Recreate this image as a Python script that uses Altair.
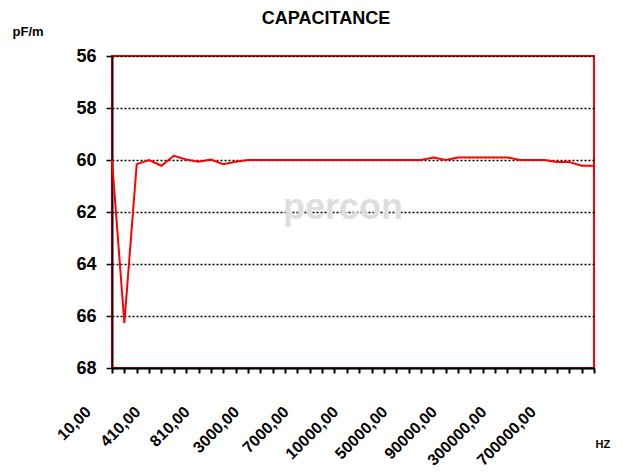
import altair as alt
import pandas as pd

freqs = ["10,00", "110,00", "210,00", "310,00", "410,00", "510,00", "610,00", "710,00",
         "810,00", "910,00", "1000,00", "2000,00", "3000,00", "4000,00", "5000,00", "6000,00",
         "7000,00", "8000,00", "9000,00", "9500,00", "10000,00", "20000,00", "30000,00",
         "40000,00", "50000,00", "60000,00", "70000,00", "80000,00", "90000,00", "100000,00",
         "150000,00", "200000,00", "300000,00", "400000,00", "500000,00", "600000,00",
         "700000,00", "800000,00", "900000,00", "1000000,00"]
capacitance = [60.0, 66.27, 60.16, 60.0, 60.22, 59.84, 59.98, 60.07,
               59.98, 60.16, 60.07, 60.0, 60.0, 60.0, 60.0, 60.0,
               60.0, 60.0, 60.0, 60.0, 60.0, 60.0, 60.0,
               60.0, 60.0, 60.0, 59.9, 60.0, 59.9, 59.9,
               59.9, 59.9, 59.9, 60.0, 60.0, 60.0,
               60.08, 60.08, 60.22, 60.22]
shown_labels = freqs[::4]
y_ticks = [56, 58, 60, 62, 64, 66, 68]

df = pd.DataFrame({"freq": freqs, "cap": capacitance})

font = "Liberation Sans"
label_list = "[" + ",".join("'" + s + "'" for s in shown_labels) + "]"

line = alt.Chart(df).mark_line(color="#ff0000", strokeWidth=2).encode(
    x=alt.X("freq:N", sort=None,
            scale=alt.Scale(type="point", padding=0),
            axis=alt.Axis(
                title="HZ", titleFont=font, titleFontSize=11, titleFontWeight="bold",
                titleAnchor="start", titleAlign="left", titleBaseline="alphabetic",
                titleX=483, titleY=79, titleColor="black",
                labelExpr="indexof(" + label_list + ", datum.value) >= 0 ? datum.value : ''",
                labelAngle=-45, labelAlign="right", labelBaseline="middle",
                labelOffset=-24, labelPadding=36, labelFont=font, labelFontSize=16,
                labelFontWeight="bold", labelColor="black", labelOverlap=False,
                labelBound=False, labelFlush=False,
                tickSize=5, tickWidth=2, tickColor="black",
                domainColor="black", domainWidth=2, grid=False)),
    y=alt.Y("cap:Q",
            scale=alt.Scale(domain=[56, 68], reverse=True, zero=False, nice=False),
            axis=alt.Axis(
                title="pF/m", titleFont=font, titleFontSize=13, titleFontWeight="bold",
                titleAngle=0, titleAlign="left", titleBaseline="alphabetic",
                titleX=-100, titleY=-21, titleColor="black",
                values=y_ticks, format="d", labelFont=font, labelFontSize=18,
                labelFontWeight="bold", labelColor="black", labelPadding=10,
                tickSize=6, tickWidth=1.5, tickColor="black",
                domainColor="#300000", domainWidth=2,
                grid=True, gridColor="black", gridDash=[2, 2], gridWidth=1.5)),
)

watermark = alt.Chart(pd.DataFrame({"t": ["percon"]})).mark_text(
    font=font, fontSize=36, fontWeight="bold", color="#dedede", align="center",
    baseline="middle"
).encode(text="t:N", x=alt.value(231), y=alt.value(152))

chart = alt.layer(watermark, line).properties(
    width=482, height=312,
    padding={"left": 104, "top": 48, "right": 21, "bottom": 104},
    autosize=alt.AutoSizeParams(type="none"),
    title=alt.TitleParams("CAPACITANCE", font=font, fontSize=18, fontWeight="bold",
                          color="black", anchor="middle", frame="group", dx=-27,
                          offset=-3),
).configure_view(stroke="#ff0000", strokeWidth=2)

chart.save("out.html", embed_options={"renderer": "svg", "actions": False})
